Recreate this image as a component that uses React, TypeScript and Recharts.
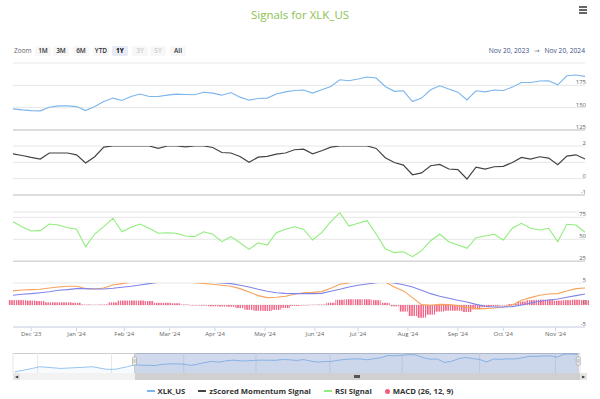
import {
    ComposedChart,
    Line,
    Bar,
    Area,
    XAxis,
    YAxis,
    CartesianGrid,
    ReferenceLine,
    ReferenceArea,
} from "recharts";

const W = 600;
const H = 399;
const PLOT_L = 13;
const PLOT_R = 585;
const FONT = "'Open Sans', 'DejaVu Sans', sans-serif";

// trading-session index (Nov 20 2023 = 0), sampled every 4 sessions
const IDX = [
    0, 4, 8, 12, 16, 20, 24, 28, 32, 36, 40, 44, 48, 52, 56, 60, 64, 68, 72, 76, 80, 84,
    88, 92, 96, 100, 104, 108, 112, 116, 120, 124, 128, 132, 136, 140, 144, 148, 152, 156,
    160, 164, 168, 172, 176, 180, 184, 188, 192, 196, 200, 204, 208, 212, 216, 220, 224,
    228, 232, 236, 240, 244, 248, 252,
];

const PRICE = [
    148.6, 147.5, 146.7, 146.4, 150.5, 152, 152, 151.2, 146.7, 151.2, 156.8, 160.7, 158,
    162.5, 165.2, 162.5, 162.5, 164, 165.2, 164.7, 164.4, 167.2, 166.3, 164, 167, 161.8,
    158.4, 160.2, 160.7, 165.2, 167.7, 169.2, 169.7, 166.3, 170, 173.7, 181.2, 180.1, 182,
    184.3, 183.2, 173.7, 168.3, 168.9, 156.8, 160.7, 170, 174.5, 170.8, 167.4, 158.7,
    168.9, 167.7, 169.7, 169.2, 173, 178.2, 178.2, 179.8, 180.1, 175.6, 185.7, 186.5, 185,
];

const ZSCORE = [
    1.52, 1.42, 1.3, 1.2, 1.57, 1.57, 1.57, 1.46, 0.96, 1.34, 1.93, 2, 2, 2, 2, 2, 1.85, 2,
    2, 1.95, 2, 2, 1.91, 1.6, 1.57, 1.36, 1.0, 1.32, 1.36, 1.5, 1.57, 1.77, 1.81, 1.52,
    1.71, 1.93, 2, 2, 2, 2, 1.85, 1.28, 0.99, 0.83, 0.24, 0.35, 0.79, 0.87, 0.59, 0.55,
    -0.02, 0.71, 0.59, 0.73, 0.75, 0.99, 1.3, 1.2, 1.34, 1.26, 0.85, 1.38, 1.46, 1.2,
];

const RSI = [
    70, 64.3, 59.4, 59.8, 67.4, 66.2, 63.2, 61.4, 41.6, 56, 64.3, 73.9, 58.6, 63.6, 67.4,
    62.5, 56.8, 57.5, 56.8, 53.7, 53, 58.6, 55.7, 47.3, 53, 46.1, 38.6, 46.1, 43.5, 57.5,
    61.4, 64.3, 61.4, 49.2, 57.5, 70, 80.2, 65.1, 68.2, 71.1, 56, 39.3, 34.8, 35.9, 30.2,
    37.1, 48.4, 56, 47.3, 43.5, 39.8, 51.8, 53.7, 55.7, 49.2, 62.5, 68.2, 62.5, 60.6, 62.5,
    47.3, 67, 66.2, 58,
];

const MACD = [
    3.2, 3.4, 3.5, 3.57, 3.87, 4.1, 4.25, 4.25, 3.72, 3.64, 3.87, 4.55, 4.86, 5.16, 5.6,
    5.77, 5.55, 5.45, 5.55, 5.45, 5.09, 4.9, 4.7, 4.48, 4.25, 3.72, 2.96, 2.13, 1.67, 1.75,
    1.98, 2.43, 2.8, 2.88, 3.04, 3.8, 4.7, 5.0, 5.32, 5.77, 6.0, 5.23, 4.1, 3.2, 1.67, 0.08,
    -0.07, 0.15, 0.08, -0.15, -0.6, -0.83, -0.83, -0.68, -0.45, 0, 1.07, 1.67, 2.2, 2.5,
    2.58, 3.2, 3.72, 3.87,
];

const SIGNAL = [
    2.2, 2.43, 2.58, 2.8, 3.0, 3.34, 3.5, 3.72, 3.72, 3.64, 3.64, 3.8, 4.02, 4.25, 4.55,
    4.86, 5.16, 5.39, 5.45, 5.45, 5.32, 5.16, 5.16, 5.0, 4.86, 4.48, 4.1, 3.57, 3.11, 2.8,
    2.65, 2.58, 2.58, 2.58, 2.65, 3.11, 3.57, 4.1, 4.48, 4.77, 5.09, 5.23, 5.0, 4.6, 4.1,
    3.34, 2.58, 1.98, 1.52, 1.07, 0.68, 0.15, -0.3, -0.45, -0.45, -0.37, 0, 0.45, 0.84,
    1.14, 1.36, 1.75, 2.13, 2.5,
];

const HIST = [
    1.1, 1.1, 1.0, 0.9, 0.6, 0.6, 0.6, 0.5, 0.1, 0.05, 0.1, 0.6, 1.0, 1.0, 1.0, 0.9, 0.5,
    0.5, 0.4, 0.1, -0.1, -0.15, -0.3, -0.35, -0.4, -0.7, -1.1, -1.3, -1.35, -1.1, -0.7,
    -0.2, -0.1, 0.05, 0.1, 0.5, 1.2, 1.3, 1.3, 1.3, 1.1, 0.5, -0.3, -1.5, -2.5, -2.9, -2.2,
    -1.5, -1.3, -1.3, -1.6, -1.0, -0.5, -0.3, -0.1, 0.2, 0.8, 1.1, 1.2, 1.2, 1.0, 1.1, 1.2,
    1.1,
];

// month ticks (first session of each month)
const MONTH_IDX = [8, 28, 49, 69, 89, 111, 133, 152, 174, 196, 216, 239];
const MONTH_LABELS = [
    "Dec '23", "Jan '24", "Feb '24", "Mar '24", "Apr '24", "May '24",
    "Jun '24", "Jul '24", "Aug '24", "Sep '24", "Oct '24", "Nov '24",
];

// navigator: earlier history + bimonthly ticks
const NAV_PRE_IDX = [-68, -58, -54, -42, -29, -24, -16, -11, -4];
const NAV_PRE = [124, 136, 142, 136, 140, 142, 133, 133, 142];
const NAV_IDX = [-55, -13, 28, 69, 111, 152, 196, 239];
const NAV_LABELS = ["Sep '23", "Nov '23", "Jan '24", "Mar '24", "May '24", "Jul '24", "Sep '24", "Nov '24"];

const RANGE_BUTTONS = ["1M", "3M", "6M", "YTD", "1Y", "3Y", "5Y", "All"];
const RANGE_X = [43, 61, 81, 101, 120, 140, 158, 178];

const MAIN = IDX.map((i, k) => ({
    i,
    price: PRICE[k],
    z: ZSCORE[k],
    rsi: RSI[k],
    macd: MACD[k],
    signal: SIGNAL[k],
    hist: HIST[k],
}));

const NAV = [
    ...NAV_PRE_IDX.map((i, k) => ({ i, p: NAV_PRE[k] })),
    ...IDX.map((i, k) => ({ i, p: PRICE[k] })),
];

function renderYTick(props: any, skip: number[]) {
    const { y, payload } = props;
    if (skip.includes(payload.value)) return <g />;
    return (
        <text
            x={PLOT_R + 1}
            y={y - 1}
            textAnchor="end"
            fontSize={6}
            fill="#666"
            fontFamily={FONT}
        >
            {payload.value}
        </text>
    );
}

function renderNavTick(props: any) {
    const { x, payload } = props;
    const label = NAV_LABELS[NAV_IDX.indexOf(payload.value)];
    return (
        <text x={x + 2} y={17} fontSize={5.5} fill="#888" fontFamily={FONT}>
            {label}
        </text>
    );
}

function renderHandle(props: any) {
    const vb = props.viewBox || {};
    return (
        <g>
            <rect x={vb.x - 2} y={4} width={4} height={8} rx={1} fill="#f2f2f2" stroke="#999" strokeWidth={0.6} />
            <line x1={vb.x - 0.6} x2={vb.x - 0.6} y1={6} y2={10} stroke="#999" strokeWidth={0.5} />
            <line x1={vb.x + 0.6} x2={vb.x + 0.6} y1={6} y2={10} stroke="#999" strokeWidth={0.5} />
        </g>
    );
}

interface PaneProps {
    top: number;
    bottom: number;
    domain: [number, number];
    ticks: number[];
    skip?: number[];
    xAxis?: boolean;
    children: React.ReactNode;
}

function Pane({ top, bottom, domain, ticks, skip = [], xAxis = false, children }: PaneProps) {
    const padT = 10;
    const padB = xAxis ? 0 : 6;
    const axisH = xAxis ? 16 : 0;
    const h = bottom - top + padT + padB + axisH;
    return (
        <div style={{ position: "absolute", left: 0, top: top - padT }}>
            <ComposedChart
                width={W}
                height={h}
                data={MAIN}
                margin={{ top: padT, right: W - PLOT_R, bottom: padB, left: PLOT_L }}
                barGap={0}
            >
                <CartesianGrid vertical={false} stroke="#e6e6e6" />
                <XAxis
                    dataKey="i"
                    type="number"
                    domain={[0, 252]}
                    ticks={MONTH_IDX}
                    interval={0}
                    hide={!xAxis}
                    height={axisH}
                    tickSize={4}
                    tickMargin={1}
                    axisLine={{ stroke: "#ccd6eb" }}
                    tickLine={{ stroke: "#ccd6eb" }}
                    tick={{ fontSize: 6, fill: "#666", fontFamily: FONT }}
                    tickFormatter={(v) => MONTH_LABELS[MONTH_IDX.indexOf(v)]}
                />
                <YAxis
                    orientation="right"
                    mirror
                    type="number"
                    domain={domain}
                    ticks={ticks}
                    interval={0}
                    allowDataOverflow
                    axisLine={false}
                    tickLine={false}
                    tick={(p: any) => renderYTick(p, skip)}
                />
                {!xAxis && <ReferenceLine y={domain[0]} stroke="#d6d6d6" strokeWidth={1.5} />}
                {children}
            </ComposedChart>
        </div>
    );
}

const LEGEND = [
    { name: "XLK_US", color: "#7cb5ec", dot: false },
    { name: "zScored Momentum Signal", color: "#434348", dot: false },
    { name: "RSI Signal", color: "#90ed7d", dot: false },
    { name: "MACD (26, 12, 9)", color: "#f15c80", dot: true },
];

export default function App() {
    return (
        <div
            style={{
                position: "absolute",
                left: 0,
                top: 0,
                width: W,
                height: H,
                background: "#fff",
                overflow: "hidden",
                fontFamily: FONT,
            }}
        >
            {/* striped fill used by the MACD histogram (daily bars look) */}
            <svg width={0} height={0} style={{ position: "absolute" }}>
                <defs>
                    <pattern id="histStripes" patternUnits="userSpaceOnUse" width={2.26} height={10}>
                        <rect x={0} y={0} width={1.4} height={10} fill="#f15c80" />
                    </pattern>
                </defs>
            </svg>

            {/* Title */}
            <div
                style={{
                    position: "absolute",
                    top: 7,
                    left: 0,
                    width: W,
                    textAlign: "center",
                    fontSize: 11.5,
                    lineHeight: "16px",
                    color: "#8cc152",
                }}
            >
                Signals for XLK_US
            </div>

            {/* Export menu icon */}
            <div style={{ position: "absolute", left: 579, top: 6, width: 8 }}>
                {[0, 1, 2].map((n) => (
                    <div key={n} style={{ height: 1.5, background: "#666", marginBottom: 1.5 }} />
                ))}
            </div>

            {/* Range selector */}
            <div
                style={{
                    position: "absolute",
                    left: 14,
                    top: 46,
                    fontSize: 6.5,
                    lineHeight: "10px",
                    color: "#666",
                }}
            >
                Zoom
            </div>
            {RANGE_BUTTONS.map((b, n) => {
                const selected = b === "1Y";
                const disabled = b === "3Y" || b === "5Y";
                return (
                    <div
                        key={b}
                        style={{
                            position: "absolute",
                            left: RANGE_X[n] - 8,
                            top: 46,
                            width: 16,
                            height: 10,
                            lineHeight: "10px",
                            textAlign: "center",
                            fontSize: 6.5,
                            fontWeight: selected ? 700 : 600,
                            borderRadius: 2,
                            background: selected ? "#e6ebf5" : "#f7f7f7",
                            color: disabled ? "#ccc" : selected ? "#000" : "#333",
                        }}
                    >
                        {b}
                    </div>
                );
            })}
            <div
                style={{
                    position: "absolute",
                    right: 15,
                    top: 46,
                    fontSize: 6.7,
                    lineHeight: "10px",
                    color: "#3d4f86",
                    whiteSpace: "nowrap",
                }}
            >
                Nov 20, 2023 <span style={{ margin: "0 3px", color: "#666" }}>→</span> Nov 20, 2024
            </div>

            {/* Price pane */}
            <Pane top={63} bottom={130} domain={[125, 200]} ticks={[125, 150, 175, 200]} skip={[200]}>
                <Line
                    type="linear"
                    dataKey="price"
                    stroke="#7cb5ec"
                    strokeWidth={1.1}
                    dot={false}
                    isAnimationActive={false}
                />
            </Pane>

            {/* zScored momentum pane */}
            <Pane top={146} bottom={195} domain={[-1, 2]} ticks={[-1, 0, 1, 2]} skip={[1]}>
                <Line
                    type="linear"
                    dataKey="z"
                    stroke="#434348"
                    strokeWidth={1.2}
                    dot={false}
                    isAnimationActive={false}
                />
            </Pane>

            {/* RSI pane */}
            <Pane top={211.7} bottom={261} domain={[25, 81]} ticks={[25, 50, 75]}>
                <Line
                    type="linear"
                    dataKey="rsi"
                    stroke="#90ed7d"
                    strokeWidth={1.1}
                    dot={false}
                    isAnimationActive={false}
                />
            </Pane>

            {/* MACD pane */}
            <Pane top={283} bottom={327} domain={[-5, 5]} ticks={[-5, 0, 5]} xAxis>
                <Bar dataKey="hist" fill="url(#histStripes)" barSize={9} isAnimationActive={false} />
                <Line
                    type="linear"
                    dataKey="macd"
                    stroke="#f7a35c"
                    strokeWidth={1.1}
                    dot={false}
                    isAnimationActive={false}
                />
                <Line
                    type="linear"
                    dataKey="signal"
                    stroke="#8085e9"
                    strokeWidth={1.1}
                    dot={false}
                    isAnimationActive={false}
                />
            </Pane>

            {/* Navigator */}
            <div
                style={{
                    position: "absolute",
                    left: 13,
                    top: 353,
                    width: 567,
                    height: 0,
                    borderTop: "1px solid #ccc",
                }}
            />
            <div style={{ position: "absolute", left: 0, top: 353 }}>
                <ComposedChart
                    width={W}
                    height={20}
                    data={NAV}
                    margin={{ top: 0, right: W - 580, bottom: 0, left: 13 }}
                >
                    <CartesianGrid horizontal={false} stroke="#e6e6e6" />
                    <XAxis
                        dataKey="i"
                        type="number"
                        domain={[-69, 253]}
                        ticks={NAV_IDX}
                        interval={0}
                        mirror
                        height={0}
                        axisLine={false}
                        tickLine={false}
                        tick={renderNavTick}
                    />
                    <YAxis hide type="number" domain={[120, 190]} />
                    <Area
                        type="linear"
                        dataKey="p"
                        stroke="#7cb5ec"
                        strokeWidth={0.8}
                        fill="#7cb5ec"
                        fillOpacity={0.05}
                        dot={false}
                        isAnimationActive={false}
                    />
                    <ReferenceArea x1={0} x2={252} fill="#6685c2" fillOpacity={0.3} strokeOpacity={0} ifOverflow="visible" />
                    <ReferenceLine x={0} stroke="#ccc" label={renderHandle} />
                    <ReferenceLine x={252} stroke="#ccc" label={renderHandle} />
                </ComposedChart>
            </div>

            {/* Scrollbar */}
            <div style={{ position: "absolute", left: 13, top: 373, width: 574, height: 7, background: "#f2f2f2" }} />
            <div style={{ position: "absolute", left: 135, top: 373, width: 445, height: 7, background: "#d0d0d0" }} />
            <div style={{ position: "absolute", left: 354, top: 375, width: 6 }}>
                {[0, 1, 2].map((n) => (
                    <div key={n} style={{ height: 0.6, background: "#555", marginBottom: 0.6 }} />
                ))}
            </div>
            {[13, 580].map((x, n) => (
                <div
                    key={x}
                    style={{
                        position: "absolute",
                        left: x,
                        top: 373,
                        width: 7,
                        height: 7,
                        background: "#e6e6e6",
                        fontSize: 4,
                        lineHeight: "7px",
                        textAlign: "center",
                        color: "#333",
                    }}
                >
                    {n === 0 ? "◀" : "▶"}
                </div>
            ))}

            {/* Legend */}
            <div
                style={{
                    position: "absolute",
                    left: 0,
                    top: 386,
                    width: W,
                    display: "flex",
                    justifyContent: "center",
                    gap: 13,
                    fontSize: 7.7,
                    fontWeight: 700,
                    lineHeight: "10px",
                    color: "#333",
                }}
            >
                {LEGEND.map((item) => (
                    <div key={item.name} style={{ display: "flex", alignItems: "center", gap: 3 }}>
                        {item.dot ? (
                            <span style={{ width: 5, height: 5, borderRadius: "50%", background: item.color }} />
                        ) : (
                            <span style={{ width: 8, height: 1.2, background: item.color }} />
                        )}
                        <span>{item.name}</span>
                    </div>
                ))}
            </div>
        </div>
    );
}
